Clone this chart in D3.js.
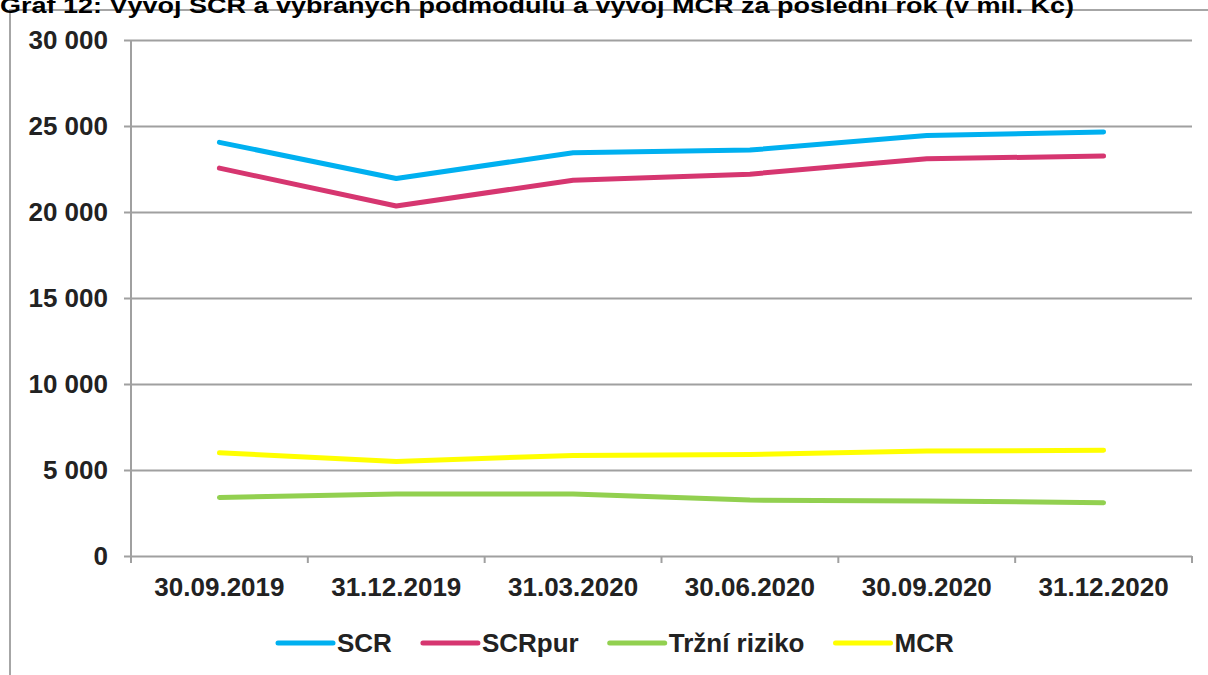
<!DOCTYPE html>
<html>
<head>
<meta charset="utf-8">
<script src="https://cdn.jsdelivr.net/npm/d3@7"></script>
<style>
body { margin:0; background:#fff; }
svg { display:block; font-family:"Liberation Sans", Arial, sans-serif; }
</style>
</head>
<body>
<svg id="chart"></svg>
<script>
var dates = ["30.09.2019","31.12.2019","31.03.2020","30.06.2020","30.09.2020","31.12.2020"];
var scr = [24050, 21950, 23450, 23600, 24450, 24650];
var scrPur = [22550, 20350, 21850, 22200, 23100, 23250];
var trzniRiziko = [3400, 3600, 3600, 3250, 3200, 3100];
var mcr = [6000, 5500, 5850, 5900, 6100, 6150];
var yTicks = [0, 5000, 10000, 15000, 20000, 25000, 30000];
var seriesNames = ["SCR","SCRpur","Tržní riziko","MCR"];
var title = "Graf 12: Vývoj SCR a vybraných podmodulů a vývoj MCR za poslední rok (v mil. Kč)";

var screen = {width:1208, height:675};
var margins = {top:40, bottom:119, left:131, right:16};
var graph = {
    width:screen.width-margins.left-margins.right,
    height:screen.height-margins.top-margins.bottom
};
var colors = ["#00b0f0","#d63670","#92d050","#ffff00"];
var gray = "#a0a0a0";
var fontSize = 26;

var svg = d3.select("#chart")
    .attr("width",screen.width)
    .attr("height",screen.height);

// outer frame (only top and left show)
svg.append("path")
    .attr("d","M10,"+screen.height+" L10,10 L"+screen.width+",10")
    .attr("fill","none")
    .attr("stroke","#a6a6a6")
    .attr("stroke-width",2);

svg.append("text")
    .attr("x",0)
    .attr("y",13)
    .attr("font-size",22)
    .attr("font-weight","bold")
    .attr("fill","#000")
    .attr("textLength",1074)
    .attr("lengthAdjust","spacingAndGlyphs")
    .text(title);

var xScale = d3.scaleBand()
    .domain(dates)
    .range([0,graph.width]);

var yScale = d3.scaleLinear()
    .domain([0,30000])
    .range([graph.height,0]);

var g = svg.append("g")
    .attr("transform","translate("+margins.left+","+margins.top+")");

// gridlines + y ticks
var yAxis = d3.axisLeft(yScale)
    .tickValues(yTicks)
    .tickSize(-graph.width-7)
    .tickPadding(16)
    .tickFormat(function(d){ return d3.format(",")(d).replace(/,/g," "); });

var yG = g.append("g")
    .attr("transform","translate(-7,0)")
    .call(yAxis);
yG.select(".domain").remove();
yG.selectAll(".tick line")
    .attr("stroke",gray)
    .attr("stroke-width",2);
yG.selectAll(".tick text")
    .attr("font-size",fontSize)
    .attr("font-weight","bold")
    .attr("fill","#222")
    .attr("font-family","Liberation Sans, Arial, sans-serif");

// y axis line
g.append("line")
    .attr("x1",0).attr("x2",0)
    .attr("y1",0).attr("y2",graph.height+7)
    .attr("stroke",gray)
    .attr("stroke-width",2);

// x axis
var xAxis = d3.axisBottom(xScale)
    .tickSize(0)
    .tickPadding(22);
var xG = g.append("g")
    .attr("transform","translate(0,"+graph.height+")")
    .call(xAxis);
xG.select(".domain").remove();
xG.selectAll(".tick text")
    .attr("font-size",fontSize)
    .attr("font-weight","bold")
    .attr("fill","#222")
    .attr("font-family","Liberation Sans, Arial, sans-serif");

var bounds = dates.map(function(d){ return xScale(d); }).concat([graph.width]);
g.selectAll(".xtick")
    .data(bounds)
    .enter()
    .append("line")
    .attr("x1",function(d){ return d; })
    .attr("x2",function(d){ return d; })
    .attr("y1",graph.height)
    .attr("y2",graph.height+7)
    .attr("stroke",gray)
    .attr("stroke-width",2);

// lines
var allSeries = [scr, scrPur, trzniRiziko, mcr];
var line = d3.line()
    .x(function(d,i){ return xScale(dates[i])+xScale.bandwidth()/2; })
    .y(function(d){ return yScale(d); });

g.selectAll(".series")
    .data(allSeries)
    .enter()
    .append("path")
    .attr("d",line)
    .attr("fill","none")
    .attr("stroke",function(d,i){ return colors[i]; })
    .attr("stroke-width",5)
    .attr("stroke-linecap","round")
    .attr("stroke-linejoin","round");

// legend
var legend = svg.append("g")
    .attr("transform","translate(278,643)");
var lx = 0;
seriesNames.forEach(function(name,i)
{
    legend.append("line")
        .attr("x1",lx).attr("x2",lx+55)
        .attr("y1",0).attr("y2",0)
        .attr("stroke",colors[i])
        .attr("stroke-width",5)
        .attr("stroke-linecap","round");
    var t = legend.append("text")
        .attr("x",lx+59)
        .attr("y",9)
        .attr("font-size",fontSize)
        .attr("font-weight","bold")
        .attr("fill","#222")
        .text(name);
    lx = lx+59+t.node().getComputedTextLength()+31;
});
</script>
</body>
</html>
